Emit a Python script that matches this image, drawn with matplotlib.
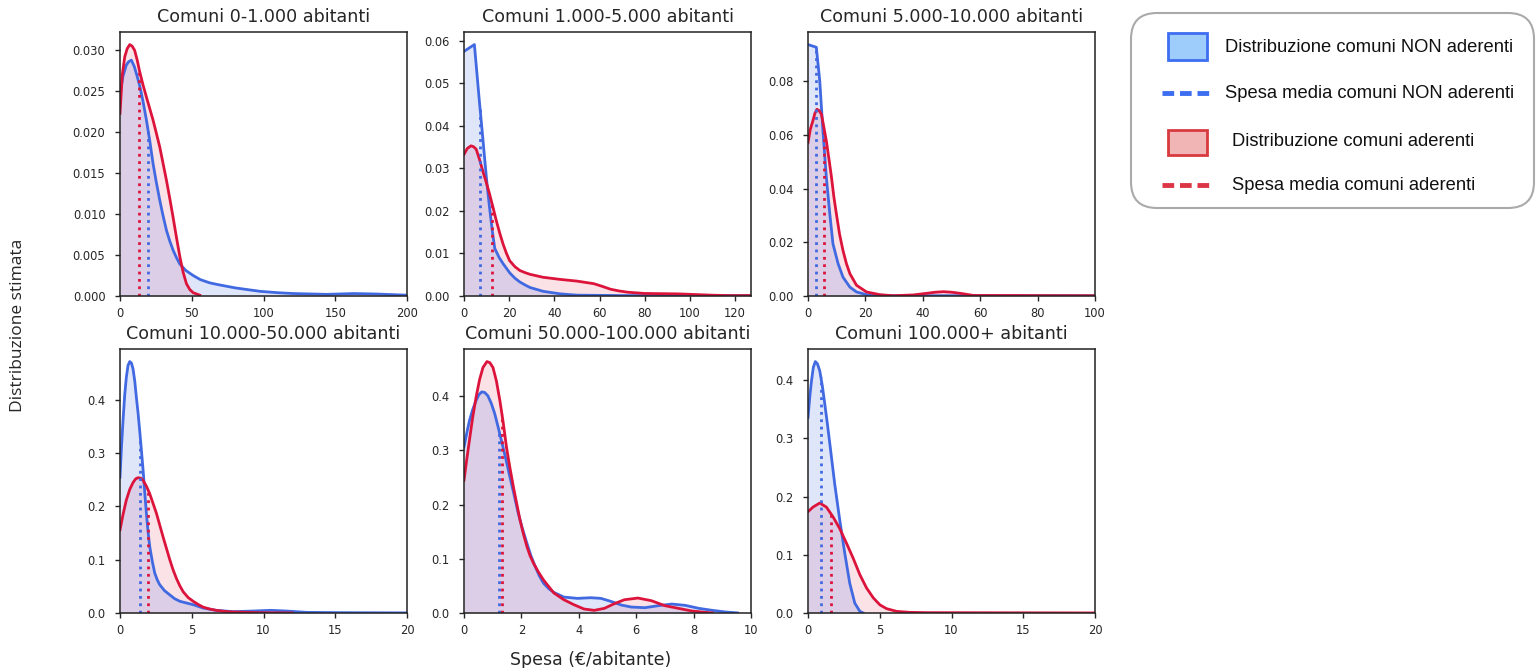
import numpy as np
import matplotlib
matplotlib.use("Agg")
import matplotlib.pyplot as plt
from matplotlib.patches import FancyBboxPatch, Rectangle
from matplotlib.lines import Line2D

# ---------------- data ----------------
titles = ["Comuni 0-1.000 abitanti", "Comuni 1.000-5.000 abitanti",
          "Comuni 5.000-10.000 abitanti", "Comuni 10.000-50.000 abitanti",
          "Comuni 50.000-100.000 abitanti", "Comuni 100.000+ abitanti"]
x_limits = [(0, 200), (0, 127), (0, 100), (0, 20), (0, 10), (0, 20)]
x_ticks = [[0, 50, 100, 150, 200], [0, 20, 40, 60, 80, 100, 120],
           [0, 20, 40, 60, 80, 100], [0, 5, 10, 15, 20],
           [0, 2, 4, 6, 8, 10], [0, 5, 10, 15, 20]]

# panel 1: 0-1.000
non_x1 = [0, 2, 4.4, 6, 7.9, 10, 12, 13.7, 16, 18.4, 20.7, 23, 25.3, 27.7, 30, 32.4, 34.7, 37,
          39.3, 41.7, 46, 51, 56, 62.6, 68, 74, 80, 86, 97.6, 110, 121, 144, 163, 179, 200]
non_y1 = [0.0245, 0.0268, 0.0282, 0.0286, 0.0288, 0.0280, 0.0268, 0.0257, 0.0238, 0.0215,
          0.0190, 0.0162, 0.0139, 0.0117, 0.0098, 0.0080, 0.0067, 0.0056, 0.0047, 0.0039,
          0.0031, 0.0025, 0.0020, 0.0016, 0.0014, 0.0012, 0.0010, 0.00085, 0.00057, 0.0004,
          0.0003, 0.0002, 0.0003, 0.00024, 0.0001]
ade_x1 = [0, 1.6, 3.3, 5, 6.8, 8.5, 10.2, 12, 13.7, 16, 18.4, 20.7, 23, 25.3, 27.7, 30, 32.4,
          34.7, 37, 39.3, 41.7, 44, 46.3, 48.6, 51, 55.6]
ade_y1 = [0.0223, 0.0270, 0.0292, 0.0302, 0.0307, 0.0305, 0.0300, 0.0288, 0.0274, 0.0258,
          0.0243, 0.0229, 0.0215, 0.0199, 0.0182, 0.0162, 0.0141, 0.0119, 0.0096, 0.0072,
          0.0048, 0.0029, 0.0015, 0.0008, 0.0004, 0.0001]
mean_non1, mean_ade1 = 19.6, 13.3

# panel 2: 1.000-5.000
non_x2 = [0, 4.6, 6.8, 8, 9.1, 10.2, 11.3, 12.4, 13.6, 15.5, 17.3, 20.3, 22.5, 24.7, 27,
          29.2, 35, 42.6, 50, 70, 100, 127]
non_y2 = [0.0575, 0.0591, 0.0458, 0.0390, 0.0325, 0.0262, 0.0208, 0.0158, 0.0112, 0.0091,
          0.0076, 0.0054, 0.0042, 0.0033, 0.0026, 0.0020, 0.0011, 0.0005, 0.0002, 0.0001,
          0.0001, 0.0001]
ade_x2 = [0, 1.5, 3.1, 4.2, 5.4, 6.8, 8.3, 9.8, 11.3, 12.8, 14.3, 15.8, 17.3, 18.8, 20.2,
          22.5, 24.7, 27, 29.2, 35, 42.6, 50, 57.4, 61, 64.8, 68.5, 72.3, 79.7, 94.6, 109.5,
          117, 127]
ade_y2 = [0.0333, 0.0347, 0.0353, 0.0351, 0.0345, 0.0322, 0.0294, 0.0268, 0.0240, 0.0209,
          0.0177, 0.0148, 0.0122, 0.0100, 0.0083, 0.0069, 0.0060, 0.0055, 0.0051, 0.0044,
          0.0039, 0.0035, 0.0029, 0.0023, 0.0016, 0.0012, 0.0009, 0.0006, 0.0005, 0.0002,
          0.0001, 0.0001]
mean_non2, mean_ade2 = 7.0, 12.6

# panel 3: 5.000-10.000
non_x3 = [0, 2.9, 4.1, 5.2, 6.4, 7.6, 8.7, 10.5, 12.2, 14.6, 16.9, 20.4, 29.7, 100]
non_y3 = [0.0936, 0.0926, 0.080, 0.0615, 0.0441, 0.0305, 0.0194, 0.012, 0.007, 0.0033,
          0.0015, 0.0005, 0.0001, 0.0001]
ade_x3 = [0, 0.8, 1.7, 2.4, 3.1, 3.9, 4.7, 5.5, 6.4, 7.3, 8.2, 9.0, 9.9, 11, 12.2, 13.4,
          14.6, 16.9, 20.4, 25, 29.7, 36.7, 41.4, 44.3, 47.2, 50.1, 53, 57.7, 100]
ade_y3 = [0.0571, 0.0620, 0.0652, 0.0680, 0.0695, 0.0690, 0.0676, 0.0630, 0.0577, 0.0510,
          0.0441, 0.0370, 0.0305, 0.0230, 0.0169, 0.0120, 0.0083, 0.0040, 0.0015, 0.0005,
          0.0001, 0.0004, 0.0010, 0.0014, 0.0016, 0.0014, 0.0010, 0.0002, 0.0001]
mean_non3, mean_ade3 = 2.7, 5.5

# panel 4: 10.000-50.000
non_x4 = [0, 0.1, 0.21, 0.33, 0.44, 0.56, 0.68, 0.8, 0.91, 1.03, 1.14, 1.26, 1.37, 1.49,
          1.61, 1.72, 1.84, 1.95, 2.07, 2.25, 2.42, 2.6, 2.77, 3.1, 3.47, 3.8, 4.17, 4.6,
          5.1, 5.8, 6.7, 7.9, 9.3, 10.5, 11.6, 13, 15.6, 20]
non_y4 = [0.255, 0.310, 0.361, 0.410, 0.442, 0.465, 0.472, 0.469, 0.458, 0.435, 0.405,
          0.375, 0.343, 0.306, 0.268, 0.228, 0.187, 0.154, 0.125, 0.097, 0.075, 0.062, 0.053,
          0.042, 0.034, 0.027, 0.022, 0.019, 0.0156, 0.0093, 0.005, 0.0025, 0.0037, 0.005,
          0.0037, 0.0012, 0.0006, 0.0002]
ade_x4 = [0, 0.22, 0.44, 0.68, 0.91, 1.1, 1.26, 1.45, 1.61, 1.84, 2.07, 2.3, 2.54, 2.77,
          3.0, 3.24, 3.47, 3.7, 3.93, 4.17, 4.4, 4.75, 5.1, 5.45, 5.8, 6.25, 6.7, 7.3, 7.9,
          9.75, 12]
ade_y4 = [0.156, 0.186, 0.212, 0.232, 0.245, 0.252, 0.254, 0.253, 0.249, 0.238, 0.224,
          0.206, 0.187, 0.165, 0.143, 0.121, 0.100, 0.081, 0.065, 0.051, 0.040, 0.029, 0.022,
          0.016, 0.011, 0.0075, 0.005, 0.003, 0.0019, 0.0006, 0.0001]
mean_non4, mean_ade4 = 1.42, 1.96

# panel 5: 50.000-100.000
non_x5 = [0, 0.1, 0.19, 0.3, 0.42, 0.52, 0.62, 0.72, 0.83, 0.95, 1.07, 1.18, 1.3, 1.45,
          1.6, 1.75, 1.89, 2.04, 2.19, 2.33, 2.48, 2.62, 2.77, 2.95, 3.13, 3.48, 3.95, 4.42,
          4.77, 5.12, 5.48, 5.83, 6.3, 6.77, 7.24, 7.71, 8.18, 8.65, 9.12, 9.53]
non_y5 = [0.306, 0.333, 0.355, 0.375, 0.392, 0.403, 0.408, 0.407, 0.401, 0.387, 0.368,
          0.345, 0.319, 0.286, 0.251, 0.217, 0.184, 0.155, 0.129, 0.106, 0.086, 0.069, 0.055,
          0.045, 0.038, 0.0294, 0.027, 0.0282, 0.027, 0.0214, 0.0147, 0.011, 0.0098, 0.0135,
          0.0165, 0.0141, 0.0086, 0.0049, 0.0018, 0.0002]
ade_x5 = [0, 0.1, 0.19, 0.3, 0.42, 0.54, 0.66, 0.8, 0.9, 1.01, 1.13, 1.25, 1.37, 1.48, 1.6,
          1.72, 1.84, 1.95, 2.07, 2.19, 2.3, 2.42, 2.6, 2.77, 3.13, 3.48, 3.83, 4.18, 4.54,
          4.89, 5.24, 5.59, 6.06, 6.53, 7.0, 7.47, 7.94, 8.41, 8.65]
ade_y5 = [0.245, 0.285, 0.319, 0.360, 0.398, 0.430, 0.453, 0.464, 0.462, 0.453, 0.428,
          0.392, 0.350, 0.306, 0.268, 0.233, 0.201, 0.172, 0.146, 0.123, 0.106, 0.092, 0.075,
          0.061, 0.037, 0.0245, 0.0153, 0.0074, 0.0049, 0.0086, 0.0172, 0.0245, 0.0276,
          0.0227, 0.0135, 0.0086, 0.0037, 0.0012, 0.0002]
mean_non5, mean_ade5 = 1.22, 1.32

# panel 6: 100.000+
non_x6 = [0, 0.12, 0.23, 0.37, 0.51, 0.66, 0.82, 1.0, 1.17, 1.35, 1.52, 1.86, 2.21, 2.56,
          2.91, 3.26, 3.61, 3.85]
non_y6 = [0.336, 0.370, 0.396, 0.422, 0.432, 0.428, 0.416, 0.390, 0.359, 0.325, 0.291,
          0.222, 0.160, 0.103, 0.051, 0.017, 0.003, 0.0]
ade_x6 = [0, 0.35, 0.82, 1.28, 1.75, 2.21, 2.68, 3.15, 3.61, 4.08, 4.55, 5.01, 5.48, 6.18,
          7.1, 8.3, 20]
ade_y6 = [0.174, 0.182, 0.189, 0.182, 0.165, 0.145, 0.120, 0.094, 0.066, 0.043, 0.026, 0.014,
          0.0074, 0.0028, 0.0011, 0.0006, 0.0001]
mean_non6, mean_ade6 = 0.89, 1.59

panels = [
    (non_x1, non_y1, ade_x1, ade_y1, mean_non1, mean_ade1),
    (non_x2, non_y2, ade_x2, ade_y2, mean_non2, mean_ade2),
    (non_x3, non_y3, ade_x3, ade_y3, mean_non3, mean_ade3),
    (non_x4, non_y4, ade_x4, ade_y4, mean_non4, mean_ade4),
    (non_x5, non_y5, ade_x5, ade_y5, mean_non5, mean_ade5),
    (non_x6, non_y6, ade_x6, ade_y6, mean_non6, mean_ade6),
]

legend_labels = ["Distribuzione comuni NON aderenti", "Spesa media comuni NON aderenti",
                 "Distribuzione comuni aderenti", "Spesa media comuni aderenti"]

# ---------------- styling ----------------
BLUE = "#4169e1"
RED = "#dc143c"
TXT = "#262626"
W, H = 1537, 668
fig = plt.figure(figsize=(W / 100, H / 100), dpi=100)

col_left = [120, 464, 808]
row_top = [32, 349]
ax_w, ax_h = 287, 264

for i, (nx, ny, axx, ay, mn, ma) in enumerate(panels):
    r, c = divmod(i, 3)
    left = col_left[c] / W
    bottom = 1 - (row_top[r] + ax_h) / H
    ax = fig.add_axes([left, bottom, ax_w / W, ax_h / H])
    nx, ny, axx, ay = map(np.asarray, (nx, ny, axx, ay))
    ax.fill_between(axx, ay, 0, color=RED, alpha=0.12, lw=0)
    ax.fill_between(nx, ny, 0, color=BLUE, alpha=0.16, lw=0)
    ax.plot(nx, ny, color=BLUE, lw=2)
    ax.plot(axx, ay, color=RED, lw=2)
    ax.plot([mn, mn], [0, np.interp(mn, nx, ny)], color=BLUE, lw=2, ls=":")
    ax.plot([ma, ma], [0, np.interp(ma, axx, ay)], color=RED, lw=2, ls=":")
    ax.set_xlim(*x_limits[i])
    ax.set_xticks(x_ticks[i])
    ax.set_ylim(0, max(ny.max(), ay.max()) * 1.05)
    ax.set_title(titles[i], fontsize=12.6, color=TXT, pad=7)
    ax.tick_params(labelsize=8.3, colors=TXT, length=3.5, width=1)
    ax.tick_params(axis="x", pad=4.5)
    ax.tick_params(axis="y", pad=7)
    for s in ax.spines.values():
        s.set_linewidth(1.1)
        s.set_color("#222222")

fig.text(18 / W, 1 - 325 / H, "Distribuzione stimata", rotation=90, ha="center", va="center",
         fontsize=12.5, family="Open Sans", color=TXT)
fig.text(591 / W, 1 - 660 / H, "Spesa (€/abitante)", ha="center", va="center",
         fontsize=12.5, color=TXT)

# ---------------- legend drawn in pixel coordinates ----------------
lg = fig.add_axes([0, 0, 1, 1])
lg.set_xlim(0, W)
lg.set_ylim(H, 0)
lg.axis("off")
lg.patch.set_visible(False)
lg.add_patch(FancyBboxPatch((1131, 13), 403, 195, boxstyle="round,pad=0,rounding_size=26",
                            fc="white", ec="#aaaaaa", lw=1.5))
lg.add_patch(Rectangle((1168, 33), 39, 27, fc="#9fcdfb", ec="#3d6ef0", lw=2))
lg.add_patch(Rectangle((1168, 130), 39, 25, fc="#f1b5b6", ec="#d83a3f", lw=2))
lg.add_line(Line2D([1162, 1210], [93, 93], color="#3d6ef0", lw=3.5, ls=(0, (2.4, 1.2))))
lg.add_line(Line2D([1162, 1210], [185, 185], color="#dc3545", lw=3.5, ls=(0, (2.4, 1.2))))
lfont = dict(family="Liberation Sans", fontsize=13.2, color="#111111", va="center", ha="left")
lg.text(1225, 47, legend_labels[0], **lfont)
lg.text(1225, 93, legend_labels[1], **lfont)
lg.text(1232, 142, legend_labels[2], **lfont)
lg.text(1232, 185, legend_labels[3], **lfont)

fig.savefig("out.png", dpi=100)
